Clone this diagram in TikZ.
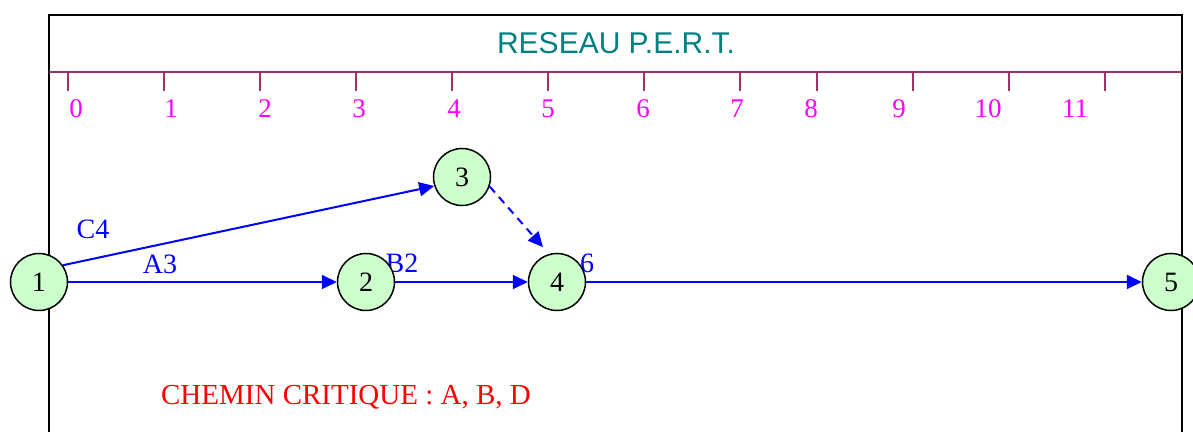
\documentclass[tikz,border=0pt]{standalone}
\usepackage{fontspec}
\setmainfont{Liberation Serif}
\newfontfamily\arialfont{Liberation Sans}
\usetikzlibrary{arrows.meta}
\definecolor{evtgreen}{HTML}{CCFFCC}
\definecolor{ttlteal}{HTML}{008080}
\definecolor{rulerplum}{HTML}{993366}
\definecolor{tickpink}{HTML}{FF00FF}
\tikzset{evt/.style = {draw, circle, fill=evtgreen, minimum size=28.5pt,
                       inner sep=0, line width=0.75pt,
                       font=\fontsize{14}{14}\selectfont}}
\tikzset{task/.style = {draw=blue, line width=1pt,
                        -{Triangle[length=7.5pt,width=7pt]}}}
\tikzset{tasklbl/.style = {text=blue, inner sep=0,
                           font=\fontsize{14}{14}\selectfont}}
\tikzset{tick/.style = {draw=rulerplum, line width=0.75pt}}
\tikzset{ticklbl/.style = {text=tickpink, inner sep=0,
                           font=\fontsize{13.5}{13.5}\selectfont}}

\begin{document}
\begin{tikzpicture}[x=0.5pt, y=-0.5pt]
      \useasboundingbox (0,0) rectangle (1193,432);
      \clip (0,0) rectangle (1193,432);
      % cadre et echelle
      \draw[line width=1pt] (49,15) rectangle (1182,460);
      \draw[tick] (49,72) -- (1182,72);
      \node[text=ttlteal, inner sep=0, font=\arialfont\fontsize{15}{15}\selectfont]
        (title) at (616,43) {RESEAU P.E.R.T.};
      \foreach \tx/\lx/\d in {68/76/0, 164/171/1, 260/265/2, 356/359/3,
                              452/454/4, 548/548/5, 644/643/6, 740/737/7,
                              817/811/8, 913/899/9, 1009/988/10, 1105/1075/11}
      {
        \draw[tick] (\tx,72) -- (\tx,91);
        \node[ticklbl] (t\d) at (\lx,109) {\d};
      }
      % durees des taches
      \node[tasklbl] (C) at (93,229) {C4};
      \node[tasklbl] (A) at (160,264) {A3};
      \node[tasklbl] (B) at (402,263) {B2};
      \node[tasklbl] (D) at (587,263) {6};
      % evenements
      \node[evt] (n1) at (39,282) {1};
      \node[evt] (n2) at (366,282) {2};
      \node[evt] (n3) at (462,177) {3};
      \node[evt] (n4) at (557,282) {4};
      \node[evt] (n5) at (1171,282) {5};
      \draw[task] (n1.35) -- (n3.198);
      \draw[task] (n1) -- (n2);
      \draw[task] (n2) -- (n4);
      \draw[task] (n4) -- (n5);
      \draw[task, dash pattern=on 4pt off 3pt, shorten >=4.5pt]
        (n3.-19) -- (n4.106);
      \node[text=red, inner sep=0, anchor=base, font=\fontsize{14.5}{14.5}\selectfont]
        (crit) at (346,404) {CHEMIN CRITIQUE : A, B, D};
    \end{tikzpicture}
\end{document}
